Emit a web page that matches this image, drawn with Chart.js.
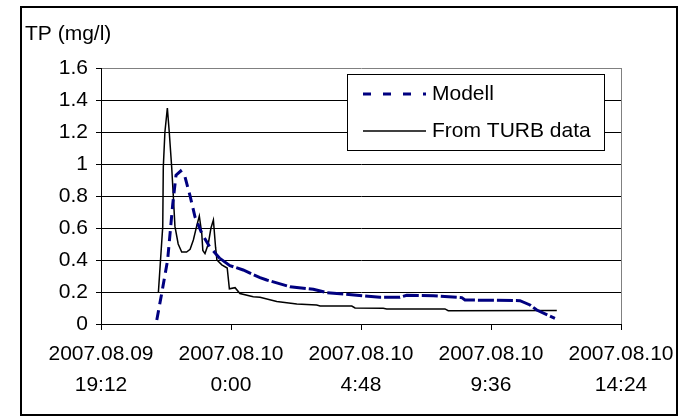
<!DOCTYPE html>
<html>
<head>
<meta charset="utf-8">
<script src="https://cdn.jsdelivr.net/npm/chart.js@4"></script>
<style>
  html, body { margin: 0; padding: 0; background: #fff; }
  #wrap { position: relative; width: 684px; height: 419px; }
</style>
</head>
<body>
<div id="wrap"><canvas id="tpChart" width="684" height="419"></canvas></div>
<script>
// time axis in hours counted from 2007.08.09 0:00
const xTickValues = [19.2, 24, 28.8, 33.6, 38.4];
const xTickLabels = [
    ['2007.08.09', '19:12'],
    ['2007.08.10', '0:00'],
    ['2007.08.10', '4:48'],
    ['2007.08.10', '9:36'],
    ['2007.08.10', '14:24']
];

// Modell
const modellTime = [21.26, 21.44, 21.66, 21.85, 21.97, 22.14, 22.30, 22.49, 22.67, 22.92,
    23.22, 23.59, 23.96, 24.45, 25.07, 25.32, 26.18, 27.04, 27.53, 28.64,
    29.50, 30.24, 30.49, 31.47, 32.52, 32.64, 34.67, 35.04, 35.29, 35.96];
const modellTP = [0.025, 0.19, 0.40, 0.75, 0.93, 0.956, 0.92, 0.80, 0.67, 0.567,
    0.48, 0.41, 0.365, 0.3375, 0.29, 0.275, 0.233, 0.217, 0.196, 0.18,
    0.167, 0.167, 0.18, 0.177, 0.165, 0.15, 0.146, 0.119, 0.0875, 0.035];

// From TURB data
const turbTime = [21.32, 21.48, 21.50, 21.56, 21.65, 21.72, 21.81, 21.87, 21.93, 22.05,
    22.18, 22.36, 22.49, 22.61, 22.73, 22.83, 22.92, 22.96, 23.04, 23.16,
    23.26, 23.35, 23.43, 23.48, 23.66, 23.86, 23.94, 24.15, 24.33, 24.82,
    25.07, 25.69, 26.43, 27.16, 27.29, 28.46, 28.58, 29.62, 29.75, 31.90,
    32.02, 36.03];
const turbTP = [0.20, 0.61, 0.98, 1.20, 1.35, 1.20, 0.98, 0.80, 0.61, 0.50,
    0.45, 0.45, 0.467, 0.525, 0.61, 0.675, 0.567, 0.46, 0.44, 0.50,
    0.60, 0.65, 0.48, 0.40, 0.37, 0.35, 0.22, 0.227, 0.19, 0.17,
    0.167, 0.14, 0.125, 0.119, 0.1125, 0.1125, 0.10, 0.098, 0.094, 0.094,
    0.083, 0.085];

const FONT = "'Liberation Sans', Arial, sans-serif";

function toPoints(xs, ys) {
    return xs.map((x, i) => ({ x: x, y: ys[i] }));
}

// outer frame, axis caption and boxed legend
const decorPlugin = {
    id: 'decor',
    afterDraw(chart) {
        const ctx = chart.ctx;
        ctx.save();
        ctx.strokeStyle = '#000';
        ctx.lineWidth = 2;
        ctx.strokeRect(21, 7, 656, 408);

        ctx.fillStyle = '#000';
        ctx.font = '21px ' + FONT;
        ctx.textBaseline = 'middle';
        ctx.textAlign = 'left';
        ctx.fillText('TP (mg/l)', 25, 34);

        // legend
        const lx = 347, ly = 74, lw = 257, lh = 76;
        ctx.fillStyle = '#fff';
        ctx.fillRect(lx, ly, lw, lh);
        ctx.lineWidth = 1;
        ctx.strokeStyle = '#000';
        ctx.strokeRect(lx + 0.5, ly + 0.5, lw, lh);

        const items = chart.data.datasets;
        const rows = [ly + 20, ly + 57];
        items.forEach((ds, i) => {
            const y = rows[i];
            ctx.beginPath();
            ctx.strokeStyle = ds.borderColor;
            ctx.lineWidth = ds.borderWidth;
            ctx.setLineDash(i === 0 ? [8, 12] : []);
            ctx.moveTo(lx + 16, y);
            ctx.lineTo(lx + 79, y);
            ctx.stroke();
            ctx.setLineDash([]);
            ctx.fillStyle = '#000';
            ctx.fillText(ds.label, lx + 85, y);
        });
        ctx.restore();
    }
};

new Chart(document.getElementById('tpChart'), {
    type: 'line',
    data: {
        datasets: [
            {
                label: 'Modell',
                data: toPoints(modellTime, modellTP),
                borderColor: '#000080',
                borderWidth: 3,
                borderDash: [10, 6],
                // the long tail is drawn with tighter dashes
                segment: {
                    borderDash: ctx => (ctx.p0.parsed.x >= 23.5 ? [16, 3] : [10, 6])
                },
                pointRadius: 0,
                tension: 0
            },
            {
                label: 'From TURB data',
                data: toPoints(turbTime, turbTP),
                borderColor: '#000',
                borderWidth: 1.5,
                pointRadius: 0,
                tension: 0
            }
        ]
    },
    options: {
        responsive: false,
        animation: false,
        devicePixelRatio: 1,
        layout: { padding: { left: 0, top: 68, right: 63, bottom: 0 } },
        plugins: {
            legend: { display: false },
            tooltip: { enabled: false }
        },
        scales: {
            x: {
                type: 'linear',
                min: xTickValues[0],
                max: xTickValues[xTickValues.length - 1],
                afterBuildTicks(scale) {
                    scale.ticks = xTickValues.map(v => ({ value: v }));
                },
                afterFit(scale) { scale.height = 95; },
                ticks: {
                    autoSkip: false,
                    maxRotation: 0,
                    padding: 9,
                    color: '#000',
                    font: { family: FONT, size: 21, lineHeight: 1.48 },
                    callback: (v, i) => xTickLabels[i]
                },
                grid: {
                    drawOnChartArea: false,
                    tickLength: 6,
                    tickColor: '#000'
                },
                border: { color: '#000', width: 1 }
            },
            y: {
                min: 0,
                max: 1.6,
                afterFit(scale) { scale.width = 101; },
                ticks: {
                    stepSize: 0.2,
                    padding: 8,
                    color: '#000',
                    font: { family: FONT, size: 21 },
                    callback: v => String(Number(v.toFixed(1)))
                },
                grid: {
                    color: ctx => (ctx.tick && ctx.tick.value >= 1.6 ? '#808080' : '#000'),
                    lineWidth: 1,
                    tickLength: 5,
                    tickColor: '#000'
                },
                border: { color: '#000', width: 1 }
            }
        }
    },
    plugins: [decorPlugin, {
        // grey right edge of the plot area
        id: 'plotEdge',
        beforeDatasetsDraw(chart) {
            const a = chart.chartArea, ctx = chart.ctx;
            ctx.save();
            ctx.strokeStyle = '#808080';
            ctx.lineWidth = 1;
            ctx.beginPath();
            ctx.moveTo(a.right + 0.5, a.top);
            ctx.lineTo(a.right + 0.5, a.bottom);
            ctx.stroke();
            ctx.restore();
        }
    }]
});
</script>
</body>
</html>
